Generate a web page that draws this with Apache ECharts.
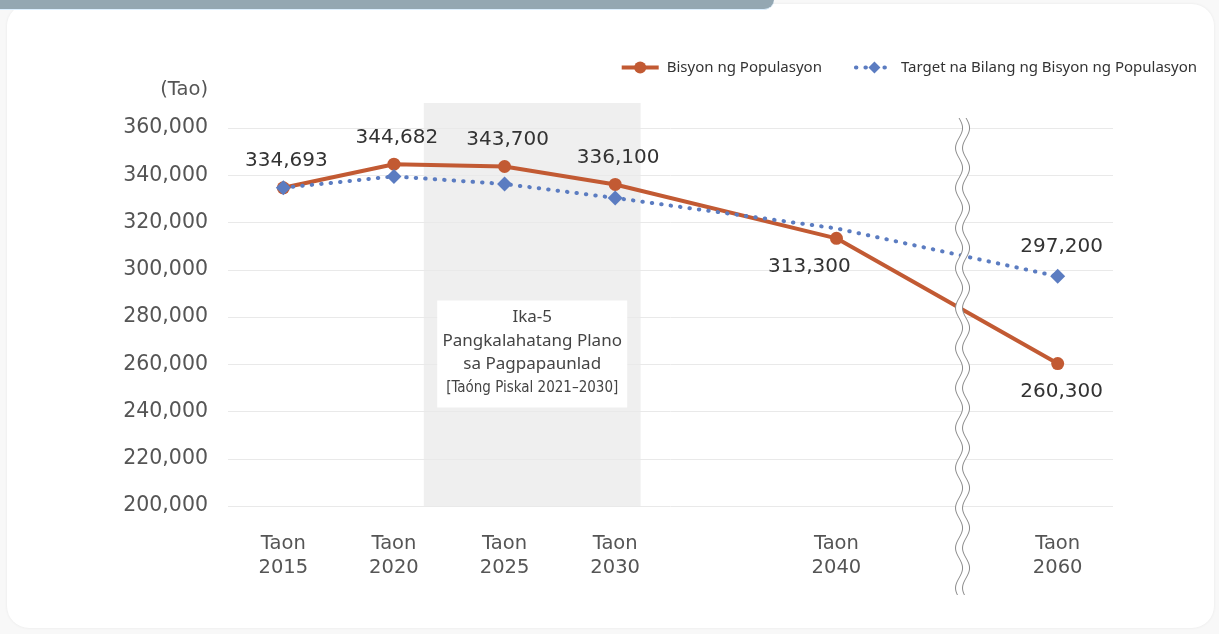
<!DOCTYPE html>
<html>
<head>
<meta charset="utf-8">
<script src="https://cdn.jsdelivr.net/npm/echarts@6/dist/echarts.min.js"></script>
<style>
  html, body { margin: 0; padding: 0; width: 1219px; height: 634px; overflow: hidden; background: #f8f8f8; }
  #card { position: absolute; left: 7px; top: 4px; width: 1207px; height: 624px; background: #fff; border-radius: 22px; box-shadow: 0 0 3px rgba(0,0,0,0.07); }
  #banner { position: absolute; left: 0; top: 0; width: 774px; height: 9px; background: #94a7b2; border-bottom-right-radius: 14px; border-bottom: 1px solid #dcefff; }
  #chart { position: absolute; left: 0; top: 0; width: 1219px; height: 634px; }
</style>
</head>
<body>
<div id="card"></div>
<div id="banner"></div>
<div id="chart"></div>
<script>
// ---- data ----
const categories = ['Taon\n2015', 'Taon\n2020', 'Taon\n2025', 'Taon\n2030', '', 'Taon\n2040', '', 'Taon\n2060'];
const populationVision = [334693, 344682, 343700, 336100, null, 313300, null, 260300];
const targetVision = [334693, 339500, 336300, 330400, null, 317500, null, 297200];
const yTicks = { min: 200000, max: 360000, interval: 20000 };
const seriesNames = ['Bisyon ng Populasyon', 'Target na Bilang ng Bisyon ng Populasyon'];
const planText = ['Ika-5', 'Pangkalahatang Plano', 'sa Pagpapaunlad'];
const planYears = '[Taóng Piskal 2021–2030]';

const ORANGE = '#c25a33';
const BLUE = '#5b7cc1';
const NUMFONT = 'DejaVu Sans';

const chart = echarts.init(document.getElementById('chart'), null, { renderer: 'canvas' });

const fmt = v => v.toLocaleString('en-US');

const popData = populationVision.map((v, i) => {
  if (v === null) return null;
  const item = { value: v, label: { show: true, position: 'top', distance: 10, offset: [3, 0] } };
  if (i === 5) item.label = { show: true, position: 'bottom', distance: 12, offset: [-27, 0] };
  if (i === 7) item.label = { show: true, position: 'bottom', distance: 12, offset: [4, 0] };
  return item;
});
const tgtData = targetVision.map((v, i) => {
  if (v === null) return null;
  const item = { value: v };
  if (i === 5) item.symbolSize = 0;
  if (i === 7) item.label = { show: true, position: 'top', distance: 12, offset: [4, 0] };
  return item;
});

const option = {
  animation: false,
  backgroundColor: 'transparent',
  grid: { left: 228, right: 106, top: 128, bottom: 128 },
  legend: {
    top: 55, right: 17,
    itemWidth: 37, itemHeight: 15, itemGap: 32,
    lineStyle: { width: 4 },
    textStyle: { fontFamily: 'Noto Sans', fontSize: 15, color: '#333', padding: [0, 0, 0, 3] },
    data: seriesNames
  },
  xAxis: {
    type: 'category',
    data: categories,
    boundaryGap: true,
    axisLine: { show: false },
    axisTick: { show: false },
    axisLabel: { margin: 26, fontFamily: NUMFONT, fontSize: 19.5, color: '#555', lineHeight: 24, interval: 0 }
  },
  yAxis: {
    type: 'value',
    min: yTicks.min, max: yTicks.max, interval: yTicks.interval,
    name: '(Tao)',
    nameLocation: 'end',
    nameGap: 28,
    nameTextStyle: { fontFamily: NUMFONT, fontSize: 19.5, color: '#555', align: 'right', padding: [0, 20, 0, 0] },
    axisLine: { show: false },
    axisTick: { show: false },
    splitLine: { lineStyle: { color: '#e9e9e9', width: 1 } },
    axisLabel: { margin: 20, fontFamily: NUMFONT, fontSize: 20.5, color: '#555', padding: [8, 0, 0, 0], formatter: v => fmt(v) }
  },
  series: [
    {
      name: seriesNames[0],
      type: 'line',
      data: popData,
      connectNulls: true,
      symbol: 'circle',
      symbolSize: 13,
      z: 3,
      lineStyle: { color: ORANGE, width: 4 },
      itemStyle: { color: ORANGE },
      label: { fontFamily: NUMFONT, fontSize: 20, color: '#333', formatter: p => fmt(p.value) }
    },
    {
      name: seriesNames[1],
      type: 'line',
      data: tgtData,
      connectNulls: true,
      symbol: 'diamond',
      symbolSize: 15,
      z: 4,
      lineStyle: { color: BLUE, width: 4, type: [0.5, 9], cap: 'round' },
      itemStyle: { color: BLUE },
      label: { fontFamily: NUMFONT, fontSize: 20, color: '#333', formatter: p => fmt(p.value) }
    }
  ]
};
chart.setOption(option);

function buildGraphics() {
  const x0 = chart.convertToPixel({ xAxisIndex: 0 }, 0);
  const x1 = chart.convertToPixel({ xAxisIndex: 0 }, 1);
  const step = x1 - x0;
  const px = i => x0 + i * step;
  const yTop = chart.convertToPixel({ yAxisIndex: 0 }, yTicks.max);
  const yBot = chart.convertToPixel({ yAxisIndex: 0 }, yTicks.min);

  // shaded plan band
  const bandL = px(1.27), bandR = px(3.23);
  const bandTop = yTop - 25;
  const cx = (bandL + bandR) / 2;
  const boxW = 190, boxH = 107;
  const boxTop = chart.convertToPixel({ yAxisIndex: 0 }, 287000);

  // wavy break
  const bx = px(6.14);
  const wTop = yTop - 10, wBot = yBot + 89;
  const amp = 3.5, period = 40, gap = 7;
  const left = [], right = [];
  for (let y = wTop; y <= wBot; y += 1) {
    const dx = amp * Math.sin((y - wTop) / period * 2 * Math.PI);
    left.push([bx - gap / 2 + dx, y]);
    right.push([bx + gap / 2 + dx, y]);
  }
  const poly = left.concat(right.slice().reverse());

  const lines = planText.map((t, k) => ({
    type: 'text', z: 12, silent: true,
    style: {
      text: t, x: cx, y: boxTop + 17 + k * 23.5,
      align: 'center', verticalAlign: 'middle',
      fontFamily: 'Noto Sans', fontSize: 17, fill: '#444'
    }
  }));
  lines.push({
    type: 'text', z: 12, silent: true,
    style: {
      text: planYears, x: cx, y: boxTop + 17 + 3 * 23.5,
      align: 'center', verticalAlign: 'middle',
      fontFamily: 'DejaVu Sans Condensed', fontSize: 15, fill: '#444'
    }
  });

  chart.setOption({
    graphic: [
      {
        type: 'rect', z: -10, silent: true,
        shape: { x: bandL, y: bandTop, width: bandR - bandL, height: yBot - bandTop },
        style: { fill: '#efefef' }
      },
      {
        type: 'rect', z: 10, silent: true,
        shape: { x: cx - boxW / 2, y: boxTop, width: boxW, height: boxH },
        style: { fill: '#ffffff' }
      }
    ].concat(lines).concat([
      {
        type: 'polygon', z: 20, silent: true,
        shape: { points: poly },
        style: { fill: '#ffffff' }
      },
      {
        type: 'polyline', z: 21, silent: true,
        shape: { points: left },
        style: { stroke: '#8a8a8a', lineWidth: 1, fill: null }
      },
      {
        type: 'polyline', z: 21, silent: true,
        shape: { points: right },
        style: { stroke: '#8a8a8a', lineWidth: 1, fill: null }
      }
    ])
  });
}
buildGraphics();
</script>
</body>
</html>
